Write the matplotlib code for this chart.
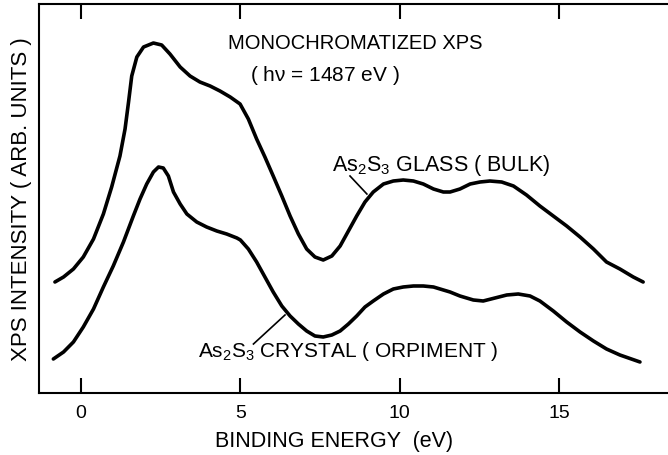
import numpy as np
import matplotlib
matplotlib.use("Agg")
import matplotlib.pyplot as plt

# XPS valence band spectra of As2S3 (arb. units)
glass_e = [-0.82, -0.55, -0.24, 0.07, 0.39, 0.70, 0.96, 1.22, 1.38, 1.49, 1.59, 1.75,
           1.96, 2.27, 2.53, 2.79, 3.11, 3.42, 3.73, 4.05, 4.36, 4.68, 4.99, 5.25,
           5.51, 5.77, 6.03, 6.30, 6.56, 6.82, 7.08, 7.34, 7.60, 7.87, 8.13, 8.39,
           8.65, 8.91, 9.17, 9.49, 9.80, 10.11, 10.43, 10.74, 11.06, 11.37, 11.58,
           11.89, 12.21, 12.52, 12.83, 13.20, 13.57, 13.98, 14.40, 14.82, 15.24,
           15.66, 16.08, 16.49, 16.91, 17.33, 17.64]
glass_i = [111, 116, 124, 136, 154, 179, 206, 237, 264, 291, 317, 336,
           346, 350, 348, 339, 326, 317, 311, 307, 302, 296, 289, 274,
           254, 236, 217, 197, 177, 159, 144, 136, 133, 137, 147, 162,
           177, 191, 201, 209, 212, 213, 212, 209, 204, 201, 201,
           204, 209, 211, 212, 211, 207, 198, 187, 177, 167,
           156, 144, 131, 124, 116, 111]

crystal_e = [-0.87, -0.55, -0.24, 0.07, 0.39, 0.70, 1.01, 1.33, 1.64, 1.85, 2.06, 2.27,
             2.43, 2.58, 2.74, 2.90, 3.11, 3.32, 3.63, 3.94, 4.26, 4.57, 4.89, 5.0,
             5.25, 5.51, 5.77, 6.03, 6.30, 6.56, 6.82, 7.08, 7.34, 7.60, 7.87, 8.13,
             8.39, 8.65, 8.91, 9.17, 9.49, 9.80, 10.11, 10.43, 10.74, 11.06, 11.37,
             11.58, 11.89, 12.31, 12.62, 12.99, 13.36, 13.72, 14.09, 14.40, 14.82,
             15.24, 15.66, 16.08, 16.49, 16.91, 17.54]
crystal_i = [34, 41, 51, 66, 84, 106, 127, 151, 177, 194, 209, 221,
             226, 225, 217, 201, 189, 179, 171, 166, 162, 159, 155, 153,
             144, 131, 116, 101, 87, 77, 69, 62, 57, 56, 58, 62,
             69, 77, 86, 92, 99, 104, 106, 107, 107, 106, 103,
             101, 97, 93, 92, 95, 98, 99, 97, 92, 82,
             71, 61, 52, 44, 38, 31]

xticks = [0, 5, 10, 15]

plt.rcParams['font.family'] = ['Liberation Sans', 'DejaVu Sans']
plt.rcParams['mathtext.default'] = 'regular'

fig = plt.figure(figsize=(6.68, 4.56), dpi=100)
ax = fig.add_axes([0.0584, 0.136, 0.9416, 0.853])

ax.plot(glass_e, glass_i, color='black', lw=2.6, solid_capstyle='round', solid_joinstyle='round')
ax.plot(crystal_e, crystal_i, color='black', lw=2.6, solid_capstyle='round', solid_joinstyle='round')

ax.set_xlim(-1.32, 18.42)
ax.set_ylim(0, 389)
ax.set_xticks(xticks)
ax.set_yticks([])
ax.tick_params(axis='x', direction='in', length=11, width=1.5, top=True,
               labelsize=14, pad=8)
for s in ['left', 'bottom', 'top']:
    ax.spines[s].set_linewidth(1.5)
ax.spines['right'].set_visible(False)

ax.set_xlabel('BINDING ENERGY  (eV)', fontsize=15.5)
ax.xaxis.set_label_coords(0.469, -0.095)
ax.set_ylabel('XPS INTENSITY ( ARB. UNITS )', fontsize=16, labelpad=5)

ax.text(4.61, 351, 'MONOCHROMATIZED XPS', fontsize=14.5, va='center', ha='left')
ax.text(5.3, 319, r'( h$\nu$ = 1487 eV )', fontsize=15, va='center', ha='left')

ax.text(7.88, 229, 'As$_2$S$_3$ GLASS ( BULK)', fontsize=15.5, va='center', ha='left')
ax.plot([8.44, 8.97], [217, 199], color='black', lw=1.2)

ax.text(3.67, 42, 'As$_2$S$_3$ CRYSTAL ( ORPIMENT )', fontsize=15, va='center', ha='left')
ax.plot([5.41, 6.4], [49, 78], color='black', lw=1.2)

fig.savefig('out.png', dpi=100)
